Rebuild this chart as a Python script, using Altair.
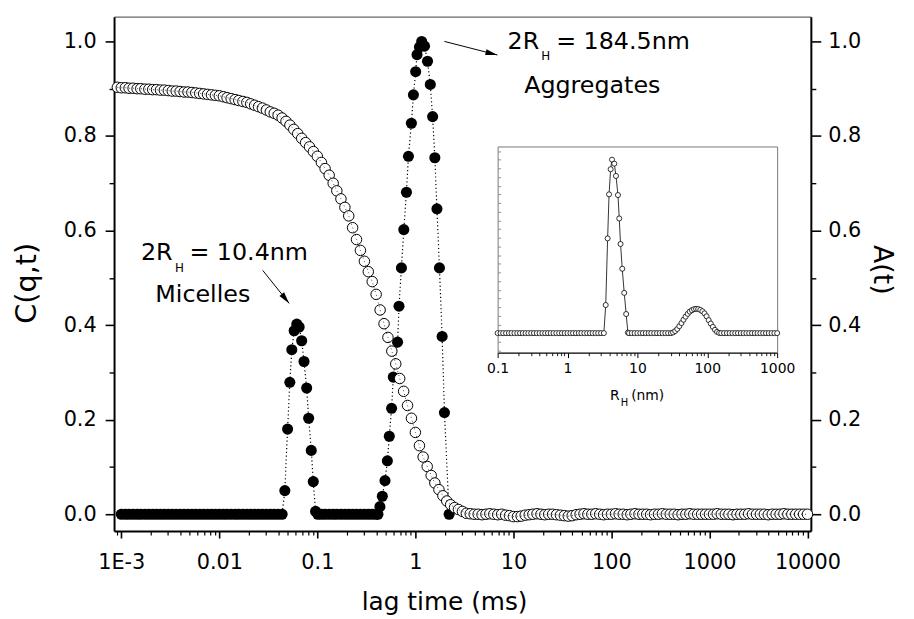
import altair as alt
import pandas as pd

FONT = "DejaVu Sans"

# ---------------- main panel data ----------------
# correlation function C(q,t) (open circles)
LAG_OPEN = [
    9.12e-4,
    1.00e-3, 1.10e-3, 1.20e-3, 1.32e-3, 1.45e-3, 1.58e-3, 1.74e-3, 1.91e-3, 2.09e-3, 2.29e-3, 2.51e-3, 2.75e-3, 3.02e-3,
    3.31e-3, 3.63e-3, 3.98e-3, 4.37e-3, 4.79e-3, 5.25e-3, 5.75e-3, 6.31e-3, 6.92e-3, 7.59e-3, 8.32e-3, 9.12e-3,
    1.00e-2, 1.10e-2, 1.20e-2, 1.32e-2, 1.45e-2, 1.58e-2, 1.74e-2, 1.91e-2, 2.09e-2, 2.29e-2, 2.51e-2, 2.75e-2, 3.02e-2,
    3.31e-2, 3.63e-2, 3.98e-2, 4.37e-2, 4.79e-2, 5.25e-2, 5.75e-2, 6.31e-2, 6.92e-2, 7.59e-2, 8.32e-2, 9.12e-2,
    1.00e-1, 1.10e-1, 1.20e-1, 1.32e-1, 1.45e-1, 1.58e-1, 1.74e-1, 1.91e-1, 2.09e-1, 2.29e-1, 2.51e-1, 2.75e-1, 3.02e-1,
    3.31e-1, 3.63e-1, 3.98e-1, 4.37e-1, 4.79e-1, 5.25e-1, 5.75e-1, 6.31e-1, 6.92e-1, 7.59e-1, 8.32e-1, 9.12e-1,
    1.00, 1.10, 1.20, 1.32, 1.45, 1.58, 1.74, 1.91, 2.09, 2.29, 2.51, 2.75, 3.02,
    3.31, 3.63, 3.98, 4.37, 4.79, 5.25, 5.75, 6.31, 6.92, 7.59, 8.32, 9.12,
    10.0, 11.0, 12.0, 13.2, 14.5, 15.8, 17.4, 19.1, 20.9, 22.9, 25.1, 27.5, 30.2,
    33.1, 36.3, 39.8, 43.7, 47.9, 52.5, 57.5, 63.1, 69.2, 75.9, 83.2, 91.2,
    100, 110, 120, 132, 145, 158, 174, 191, 209, 229, 251, 275, 302,
    331, 363, 398, 437, 479, 525, 575, 631, 692, 759, 832, 912,
    1000, 1100, 1200, 1320, 1450, 1580, 1740, 1910, 2090, 2290, 2510, 2750, 3020,
    3310, 3630, 3980, 4370, 4790, 5250, 5750, 6310, 6920, 7590, 8320, 9120,
    10000,
]
C_OPEN = [
    0.903,
    0.902, 0.902, 0.901, 0.901, 0.900, 0.900, 0.899, 0.899, 0.898, 0.898, 0.897, 0.897, 0.896,
    0.895, 0.895, 0.894, 0.893, 0.893, 0.892, 0.891, 0.890, 0.889, 0.888, 0.887, 0.886,
    0.885, 0.883, 0.881, 0.879, 0.877, 0.875, 0.873, 0.871, 0.868, 0.865, 0.862, 0.859, 0.855,
    0.851, 0.848, 0.844, 0.838, 0.831, 0.823, 0.814, 0.805, 0.795, 0.786, 0.777, 0.767,
    0.757, 0.744, 0.731, 0.717, 0.700, 0.684, 0.667, 0.649, 0.631, 0.606, 0.581, 0.558, 0.535,
    0.513, 0.492, 0.465, 0.432, 0.403, 0.374, 0.345, 0.318, 0.287, 0.260, 0.230, 0.203,
    0.173, 0.145, 0.121, 0.101, 0.082, 0.066, 0.052, 0.039, 0.028, 0.020, 0.014, 0.010, 0.006,
    0.002, 0.001, 0.000, 0.000, -0.001, 0.000, 0.001, 0.000, -0.001, 0.000, -0.002, -0.003,
    -0.005, -0.005, -0.004, -0.002, -0.001, 0.000, 0.001, 0.000, -0.001, 0.000, 0.000, -0.001, -0.002,
    -0.003, -0.004, -0.003, -0.001, 0.000, 0.001, 0.000, 0.000, 0.001, 0.000, -0.001, 0.000,
    0.000, 0.001, 0.000, 0.000, -0.001, 0.000, 0.001, 0.000, 0.000, 0.000, -0.001, 0.000, 0.000,
    0.001, 0.000, 0.000, 0.000, -0.001, 0.000, 0.000, 0.001, 0.000, 0.000, 0.000, 0.000,
    0.000, 0.000, 0.001, 0.000, 0.000, 0.000, -0.001, 0.000, 0.000, 0.000, 0.001, 0.000, 0.000,
    0.000, 0.000, -0.001, 0.000, 0.000, 0.000, 0.001, 0.000, 0.000, 0.000, 0.000, 0.000,
    0.000,
]

# relaxation time distribution A(t) (filled circles)
LAG_FILL = [
    1.00e-3, 1.10e-3, 1.20e-3, 1.32e-3, 1.45e-3, 1.58e-3, 1.74e-3, 1.91e-3, 2.09e-3, 2.29e-3, 2.51e-3, 2.75e-3, 3.02e-3,
    3.31e-3, 3.63e-3, 3.98e-3, 4.37e-3, 4.79e-3, 5.25e-3, 5.75e-3, 6.31e-3, 6.92e-3, 7.59e-3, 8.32e-3, 9.12e-3,
    1.00e-2, 1.10e-2, 1.20e-2, 1.32e-2, 1.45e-2, 1.58e-2, 1.74e-2, 1.91e-2, 2.09e-2, 2.29e-2, 2.51e-2, 2.75e-2, 3.02e-2,
    3.31e-2, 3.63e-2, 3.98e-2, 4.37e-2,
    0.0466, 0.0497, 0.0524, 0.0549, 0.0580, 0.0617, 0.0652, 0.0692, 0.0731, 0.0778, 0.0815, 0.0867, 0.0909, 0.0960,
    0.101, 0.110, 0.120, 0.132, 0.145, 0.158, 0.174, 0.191, 0.209, 0.229, 0.251, 0.275, 0.302, 0.331, 0.363, 0.398, 0.415,
    0.435, 0.460, 0.490, 0.518, 0.542, 0.572, 0.595, 0.658, 0.681, 0.721, 0.762, 0.811, 0.850, 0.911, 0.955,
    1.007, 1.040, 1.100, 1.160, 1.240, 1.330, 1.420, 1.500, 1.580, 1.660, 1.760, 1.875, 1.980, 2.210,
]
A_FILL = [
    0, 0, 0, 0, 0, 0, 0, 0, 0, 0, 0, 0, 0,
    0, 0, 0, 0, 0, 0, 0, 0, 0, 0, 0, 0,
    0, 0, 0, 0, 0, 0, 0, 0, 0, 0, 0, 0, 0,
    0, 0, 0, 0,
    0.050, 0.180, 0.279, 0.348, 0.388, 0.402, 0.396, 0.367, 0.323, 0.267, 0.203, 0.135, 0.069, 0.006,
    0, 0, 0, 0, 0, 0, 0, 0, 0, 0, 0, 0, 0, 0, 0, 0, 0,
    0.016, 0.038, 0.071, 0.113, 0.165, 0.224, 0.290, 0.364, 0.440, 0.521, 0.602, 0.681, 0.757, 0.827, 0.887,
    0.936, 0.972, 0.988, 1.000, 0.990, 0.958, 0.909, 0.841, 0.754, 0.646, 0.521, 0.376, 0.215, 0.000,
]

# ---------------- inset data: size distribution ----------------
RH = [
    0.100, 0.110, 0.120, 0.132, 0.145, 0.158, 0.174, 0.191, 0.209, 0.229, 0.251, 0.275, 0.302,
    0.331, 0.363, 0.398, 0.437, 0.479, 0.525, 0.575, 0.631, 0.692, 0.759, 0.832, 0.912,
    1.00, 1.10, 1.20, 1.32, 1.45, 1.58, 1.74, 1.91, 2.09, 2.29, 2.51, 2.75, 3.02, 3.31,
    3.52, 3.75, 3.93, 4.14, 4.33, 4.67, 4.94, 5.27, 5.50, 5.74, 6.07, 6.48, 6.91, 7.31,
    7.59, 8.32, 9.12, 10.0, 11.0, 12.0, 13.2, 14.5, 15.8, 17.4, 19.1, 20.9, 22.9, 25.1, 27.5,
    30.2, 32.4, 34.7, 37.2, 39.8, 42.7, 45.7, 49.0, 52.5, 56.2, 60.3, 64.6, 69.2,
    74.1, 79.4, 85.1, 91.2, 97.7, 104.7, 112.2, 120.2, 128.8, 138.0, 147.9, 158.5,
    174, 191, 209, 229, 251, 275, 302, 331, 363, 398, 437, 479, 525, 575, 631, 692, 759, 832, 912, 1000,
]
DIST = [
    0, 0, 0, 0, 0, 0, 0, 0, 0, 0, 0, 0, 0,
    0, 0, 0, 0, 0, 0, 0, 0, 0, 0, 0, 0,
    0, 0, 0, 0, 0, 0, 0, 0, 0, 0, 0, 0, 0, 0,
    0.162, 0.546, 0.800, 0.945, 1.000, 0.977, 0.906, 0.796, 0.661, 0.514, 0.371, 0.232, 0.110, 0.003,
    0, 0, 0, 0, 0, 0, 0, 0, 0, 0, 0, 0, 0, 0, 0,
    0.000, 0.004, 0.012, 0.024, 0.040, 0.058, 0.077, 0.095, 0.111, 0.124, 0.132, 0.138, 0.140,
    0.139, 0.134, 0.126, 0.114, 0.097, 0.075, 0.055, 0.036, 0.019, 0.007, 0.001, 0.000,
    0, 0, 0, 0, 0, 0, 0, 0, 0, 0, 0, 0, 0, 0, 0, 0, 0, 0, 0, 0,
]

assert len(LAG_OPEN) == len(C_OPEN), (len(LAG_OPEN), len(C_OPEN))
assert len(LAG_FILL) == len(A_FILL), (len(LAG_FILL), len(A_FILL))
assert len(RH) == len(DIST), (len(RH), len(DIST))

# tick values / labels
X_MAJOR = [1e-3, 1e-2, 1e-1, 1, 10, 100, 1000, 10000]
X_MINOR = [9e-4,
           2e-3, 3e-3, 4e-3, 5e-3, 6e-3, 7e-3, 8e-3, 9e-3,
           2e-2, 3e-2, 4e-2, 5e-2, 6e-2, 7e-2, 8e-2, 9e-2,
           0.2, 0.3, 0.4, 0.5, 0.6, 0.7, 0.8, 0.9,
           2, 3, 4, 5, 6, 7, 8, 9,
           20, 30, 40, 50, 60, 70, 80, 90,
           200, 300, 400, 500, 600, 700, 800, 900,
           2000, 3000, 4000, 5000, 6000, 7000, 8000, 9000]
Y_MAJOR = [0.0, 0.2, 0.4, 0.6, 0.8, 1.0]
Y_MINOR = [0.1, 0.3, 0.5, 0.7, 0.9]
XI_MAJOR = [0.1, 1, 10, 100, 1000]
XI_MINOR = [0.2, 0.3, 0.4, 0.5, 0.6, 0.7, 0.8, 0.9,
            2, 3, 4, 5, 6, 7, 8, 9,
            20, 30, 40, 50, 60, 70, 80, 90,
            200, 300, 400, 500, 600, 700, 800, 900]
YI_TICKS = [-0.1, -0.05, 0.0, 0.05, 0.1, 0.15, 0.2, 0.25, 0.3, 0.35, 0.4, 0.45, 0.5,
            0.55, 0.6, 0.65, 0.7, 0.75, 0.8, 0.85, 0.9, 0.95, 1.0, 1.05]

# annotations (data coordinates)
ANN_TEXT = ["2R", "H", "= 10.4nm", "Micelles", "2R", "H", "= 184.5nm", "Aggregates"]
ANN_X = [3.333e-3, 3.532e-3, 4.95e-3, 6.78e-3, 18.36, 19.24, 27.29, 63.8]
ANN_Y = [0.5367, 0.5126, 0.5367, 0.4493, 0.9839, 0.9616, 0.9839, 0.8916]
ARROW_X = [0.02773, 1.978]
ARROW_Y = [0.5157, 1.000]
ARROW_X2 = [0.05162, 6.86]
ARROW_Y2 = [0.4459, 0.9713]
INS_TEXT = ["R", "H", "(nm)"]
INS_X = [5.592, 5.778, 8.14]
INS_Y = [-0.3869, -0.4194, -0.3869]

# ---------------- scales ----------------
W, H = 703, 519
XDOM = [8.437e-4, 10825]
YDOM = [-0.0356, 1.0524]


def XS():
    return alt.Scale(type="log", domain=XDOM, nice=False)


def YS():
    return alt.Scale(domain=YDOM, nice=False, zero=False)


def XI():
    return alt.Scale(type="log", domain=[0.1, 1000], range=[387, 669], nice=False)


def YI():
    return alt.Scale(domain=[-0.1126, 1.076], range=[339, 131], nice=False, zero=False)


BASE = dict(grid=False, labelFont=FONT, titleFont=FONT, domainColor="black",
            tickColor="black", labelColor="black", titleColor="black",
            titleFontWeight="normal")

ax_bottom = alt.Axis(orient="bottom", values=X_MAJOR,
                     labelExpr="datum.value < 0.005 ? '1E-3' : (datum.value < 1 ? format(datum.value, '.2~f') : format(datum.value, 'd'))",
                     tickSize=7, tickWidth=1.6, domainWidth=2, labelFontSize=21,
                     labelPadding=14, labelOverlap=False, labelFlush=False,
                     title="lag time (ms)", titleFontSize=25, titleX=333, titleY=79.3,
                     titleBaseline="alphabetic", titleAlign="center", **BASE)
ax_bottom_minor = alt.Axis(orient="bottom", values=X_MINOR, tickSize=4, tickWidth=1.2,
                           labels=False, domain=False, title=None, **BASE)
ax_top = alt.Axis(orient="top", ticks=False, labels=False, domainWidth=1.3,
                  title=None, grid=False, domainColor="#666666")
ax_left = alt.Axis(orient="left", values=Y_MAJOR, format=".1f", tickSize=9, tickWidth=1.6,
                   domainWidth=2, labelFontSize=21, labelPadding=9, labelFlush=False,
                   title="C(q,t)", titleFontSize=29, titleX=-79.5, titleY=268.5,
                   titleAngle=270, titleBaseline="alphabetic", titleAlign="center", **BASE)
ax_left_minor = alt.Axis(orient="left", values=Y_MINOR, tickSize=5, tickWidth=1.4,
                         labels=False, domain=False, title=None, **BASE)
ax_right = alt.Axis(orient="right", values=Y_MAJOR, format=".1f", tickSize=10, tickWidth=1.6,
                    domainWidth=2, labelFontSize=21, labelPadding=7, labelFlush=False,
                    title="A(t)", titleFontSize=27, titleX=63.7, titleY=255,
                    titleAngle=90, titleBaseline="alphabetic", titleAlign="center", **BASE)
ax_right_minor = alt.Axis(orient="right", values=Y_MINOR, tickSize=5, tickWidth=1.4,
                          labels=False, domain=False, title=None, **BASE)

axi_bottom = alt.Axis(orient="bottom", offset=-180, values=XI_MAJOR,
                      labelExpr="format(datum.value, '~g')", tickSize=5, tickWidth=1,
                      domainWidth=1.3, labelFontSize=14, labelPadding=4, labelOverlap=False,
                      labelFlush=False, title=None, **BASE)
axi_bottom_minor = alt.Axis(orient="bottom", offset=-180, values=XI_MINOR, tickSize=3,
                            tickWidth=0.9, labels=False, domain=False, title=None, **BASE)
axi_top = alt.Axis(orient="top", offset=-131, ticks=False, labels=False, domainWidth=1,
                   domainColor="#777777", title=None, grid=False)
axi_left = alt.Axis(orient="right", offset=-316, values=YI_TICKS, tickSize=3, tickWidth=0.8,
                    tickColor="#777777", labels=False, domainWidth=1, domainColor="#777777",
                    title=None, grid=False)
axi_right = alt.Axis(orient="left", offset=-669, ticks=False, labels=False, domainWidth=1,
                     domainColor="#777777", title=None, grid=False)

df_open = pd.DataFrame({"lag": LAG_OPEN, "C": C_OPEN})
df_fill = pd.DataFrame({"lag": LAG_FILL, "A": A_FILL})
df_ins = pd.DataFrame({"rh": RH, "d": DIST})
df_arrow = pd.DataFrame({"x": ARROW_X, "y": ARROW_Y, "x2": ARROW_X2, "y2": ARROW_Y2})


def mx(field, axis=None):
    return alt.X(field, type="quantitative", scale=XS(), axis=axis)


def my(field, axis=None):
    return alt.Y(field, type="quantitative", scale=YS(), axis=axis)


def ix(field, axis=None):
    return alt.X(field, type="quantitative", scale=XI(), axis=axis)


def iy(field, axis=None):
    return alt.Y(field, type="quantitative", scale=YI(), axis=axis)


layers = []

# dotted line through filled symbols
layers.append(alt.Chart(df_fill).mark_line(color="black", strokeWidth=1.2, strokeDash=[1.2, 2.6])
              .encode(x=mx("lag", ax_top), y=my("A")))
# filled symbols
layers.append(alt.Chart(df_fill).mark_point(filled=True, color="black", size=125, opacity=1)
              .encode(x=mx("lag", ax_bottom), y=my("A", ax_left)))
# open symbols
layers.append(alt.Chart(df_open).mark_point(filled=True, fill="white", stroke="black",
                                            strokeWidth=1, size=112, opacity=1)
              .encode(x=mx("lag", ax_bottom_minor), y=my("C", ax_left_minor)))
# dotted line through open symbols
layers.append(alt.Chart(df_open).mark_line(color="#333333", strokeWidth=0.9, strokeDash=[1, 3])
              .encode(x=mx("lag"), y=my("C", ax_right)))
# arrows
layers.append(alt.Chart(df_arrow).mark_rule(color="black", strokeWidth=1)
              .encode(x=mx("x"), y=my("y", ax_right_minor), x2="x2:Q", y2="y2:Q"))
HEAD = "M0,0 L0.5,2 L-0.5,2 Z"
for i, ang in enumerate([141.3, 104.4]):
    dfh = pd.DataFrame({"x": [ARROW_X2[i]], "y": [ARROW_Y2[i]]})
    layers.append(alt.Chart(dfh).mark_point(shape=HEAD, filled=True, color="black",
                                            size=144, angle=ang, opacity=1)
                  .encode(x=mx("x"), y=my("y")))

# annotation texts
styles = [(24, "right"), (12, "left"), (24, "left"), (24, "center"),
          (24, "right"), (12, "left"), (24, "left"), (24, "center")]
for i, (fs, al) in enumerate(styles):
    dft = pd.DataFrame({"t": [ANN_TEXT[i]], "x": [ANN_X[i]], "y": [ANN_Y[i]]})
    layers.append(alt.Chart(dft).mark_text(font=FONT, fontSize=fs, align=al,
                                           baseline="alphabetic", color="black")
                  .encode(x=mx("x"), y=my("y"), text="t:N"))

# inset
layers.append(alt.Chart(df_ins).mark_line(color="black", strokeWidth=0.8)
              .encode(x=ix("rh", axi_bottom), y=iy("d", axi_left)))
layers.append(alt.Chart(df_ins).mark_point(filled=True, fill="white", stroke="black",
                                           strokeWidth=0.8, size=26, opacity=1)
              .encode(x=ix("rh", axi_bottom_minor), y=iy("d", axi_right)))
ins_styles = [(14, "right"), (10, "left"), (14, "left")]
for i, (fs, al) in enumerate(ins_styles):
    dft = pd.DataFrame({"t": [INS_TEXT[i]], "x": [INS_X[i]], "y": [INS_Y[i]]})
    layers.append(alt.Chart(dft).mark_text(font=FONT, fontSize=fs, align=al,
                                           baseline="alphabetic", color="black")
                  .encode(x=ix("x", axi_top if i == 0 else None), y=iy("y"), text="t:N"))

chart = (alt.layer(*layers)
         .resolve_scale(x="independent", y="independent")
         .resolve_axis(x="independent", y="independent")
         .properties(width=W, height=H,
                     autosize=alt.AutoSizeParams(type="none"),
                     padding={"left": 107, "top": 6, "right": 96, "bottom": 86},
                     background="white")
         .configure_view(stroke=None))

chart.save("out.html", embed_options={"renderer": "svg", "actions": False})
